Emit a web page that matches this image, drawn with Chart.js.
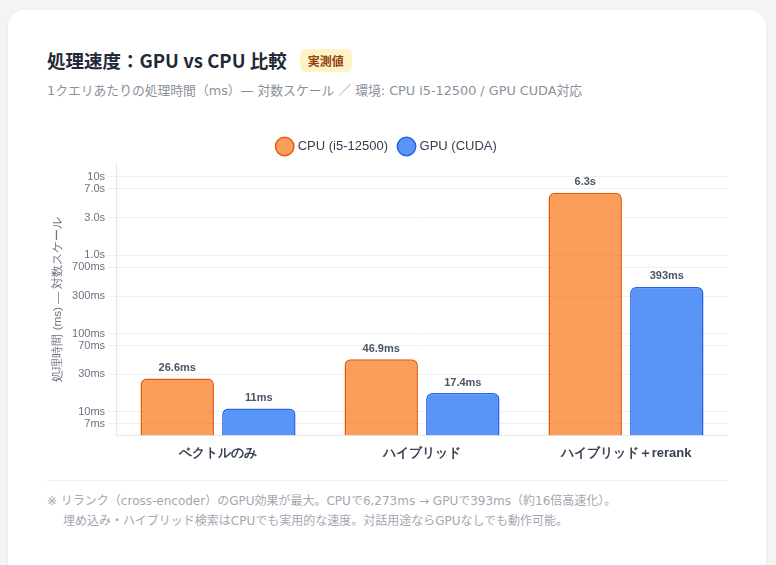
<!DOCTYPE html>
<html lang="ja">
<head>
<meta charset="utf-8">
<script src="https://cdn.jsdelivr.net/npm/chart.js@4.4.1/dist/chart.umd.min.js"></script>
<style>
  html, body { margin: 0; padding: 0; }
  body {
    background: #f4f4f5;
    width: 776px; height: 565px; overflow: hidden;
    font-family: "Noto Sans CJK JP", "Noto Sans", sans-serif;
  }
  .card {
    position: absolute; left: 8px; top: 10px; width: 758px; height: 600px;
    background: #fff; border-radius: 16px;
    box-shadow: 0 1px 4px rgba(0,0,0,0.06);
  }
  .title {
    position: absolute; left: 39px; top: 37px;
    font-size: 18.5px; font-weight: 700; color: #1f2937;
    display: flex; align-items: center;
  }
  .badge {
    margin-left: 13px; background: #fef3c7; color: #92400e;
    font-size: 12px; font-weight: 700; padding: 3px 8px; border-radius: 6px;
  }
  .sub {
    position: absolute; left: 39px; top: 70px;
    font-family: "DejaVu Sans", "Noto Sans CJK JP", sans-serif;
    font-size: 12.8px; color: #8b909a;
  }
  .wrap {
    position: absolute; left: 39px; top: 118px; width: 681px; height: 335px;
  }
  .sep {
    position: absolute; left: 39px; top: 470px; width: 681px; height: 1px; background: #eceef1;
  }
  .note {
    position: absolute; left: 39px; top: 481px;
    font-family: "DejaVu Sans", "Noto Sans CJK JP", sans-serif;
    font-size: 12px; color: #a3a7b0; line-height: 20px;
  }
  .note .l2 { padding-left: 16px; }
</style>
</head>
<body>
<div class="card">
  <div class="title">処理速度：GPU vs CPU 比較<span class="badge">実測値</span></div>
  <div class="sub">1クエリあたりの処理時間（ms）— 対数スケール ／ 環境: CPU i5-12500 / GPU CUDA対応</div>
  <div class="wrap"><canvas id="speedChart"></canvas></div>
  <div class="sep"></div>
  <div class="note">
    <div>※ リランク（cross-encoder）のGPU効果が最大。CPUで6,273ms → GPUで393ms（約16倍高速化）。</div>
    <div class="l2">埋め込み・ハイブリッド検索はCPUでも実用的な速度。対話用途ならGPUなしでも動作可能。</div>
  </div>
</div>
<script>
const categories = ["ベクトルのみ", "ハイブリッド", "ハイブリッド＋rerank"]
const cpuMs = [26.6, 46.9, 6273]
const gpuMs = [11, 17.4, 393]
const yTicks = [7, 10, 30, 70, 100, 300, 700, 1000, 3000, 7000, 10000]

function fmtTick(v) {
    if (v >= 10000) return (v / 1000) + "s"
    if (v >= 1000) return (v / 1000).toFixed(1) + "s"
    return v + "ms"
}
function fmtBar(v) {
    if (v >= 1000) return (v / 1000).toFixed(1) + "s"
    return v + "ms"
}

// value labels above the bars
const barLabels = {
    id: "barLabels",
    afterDatasetsDraw(chart) {
        const ctx = chart.ctx
        ctx.save()
        ctx.font = "bold 11px 'Liberation Sans', Arial, sans-serif"
        ctx.fillStyle = "#4b5563"
        ctx.textAlign = "center"
        ctx.textBaseline = "bottom"
        chart.data.datasets.forEach((ds, i) => {
            chart.getDatasetMeta(i).data.forEach((bar, j) => {
                ctx.fillText(fmtBar(ds.data[j]), bar.x, bar.y - 5)
            })
        })
        ctx.restore()
    }
}

new Chart("speedChart", {
    type: "bar",
    data: {
        labels: categories,
        datasets: [{
            label: "CPU (i5-12500)",
            data: cpuMs,
            backgroundColor: "rgba(249,115,22,0.7)",
            borderColor: "#ea580c",
            borderWidth: 1.5,
            borderRadius: 6,
            borderSkipped: "bottom"
        }, {
            label: "GPU (CUDA)",
            data: gpuMs,
            backgroundColor: "rgba(59,130,246,0.85)",
            borderColor: "#2563eb",
            borderWidth: 1.5,
            borderRadius: 6,
            borderSkipped: "bottom"
        }]
    },
    options: {
        responsive: true,
        maintainAspectRatio: false,
        animation: false,
        layout: { padding: { top: 0, right: 0 } },
        plugins: {
            legend: {
                position: "top",
                labels: {
                    usePointStyle: true,
                    pointStyle: "circle",
                    color: "#374151",
                    font: { size: 13 },
                    padding: 12
                }
            },
            tooltip: { enabled: false }
        },
        scales: {
            x: {
                grid: { display: false },
                border: { color: "#e5e7eb" },
                ticks: { color: "#374151", font: { size: 13, weight: "bold" }, padding: 2 }
            },
            y: {
                type: "logarithmic",
                min: 5,
                max: 15000,
                afterBuildTicks(scale) {
                    scale.ticks = yTicks.map(v => ({ value: v }))
                },
                grid: { color: "#eef0f2" },
                border: { color: "#e5e7eb" },
                ticks: {
                    color: "#6b7280",
                    font: { size: 11 },
                    callback: (v) => fmtTick(v)
                },
                title: {
                    display: true,
                    text: "処理時間 (ms) — 対数スケール",
                    color: "#6b7280",
                    font: { size: 11.7 }
                }
            }
        }
    },
    plugins: [barLabels]
})
</script>
</body>
</html>
